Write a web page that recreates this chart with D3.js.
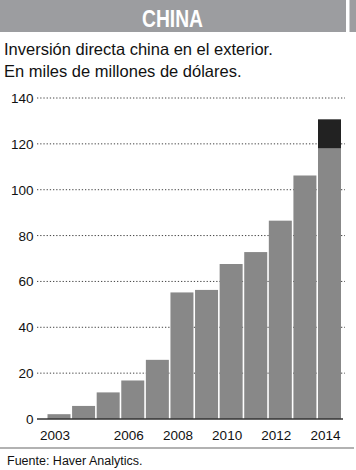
<!DOCTYPE html>
<html><head><meta charset="utf-8">
<script src="https://cdn.jsdelivr.net/npm/d3@7"></script>
<style>
html,body{margin:0;padding:0;background:#fff;}
svg{display:block;}
</style></head>
<body>
<script>
const years = [2003,2004,2005,2006,2007,2008,2009,2010,2011,2012,2013,2014];
const values = [2.1,5.7,11.6,16.8,25.8,55.2,56.3,67.6,72.8,86.5,106.2,118.0];
const estimateExtra = [0,0,0,0,0,0,0,0,0,0,0,12.7];
const yTicks = [0,20,40,60,80,100,120,140];
const xTickYears = [2003,2006,2008,2010,2012,2014];
const title = "CHINA";
const subtitle = ["Inversión directa china en el exterior.","En miles de millones de dólares."];
const source = "Fuente: Haver Analytics.";

const W=356,H=470;
const svg=d3.select("body").append("svg").attr("width",W).attr("height",H);
const font="'Liberation Sans', Arial, Helvetica, sans-serif";

// title bar
svg.append("rect").attr("x",0).attr("y",0).attr("width",346).attr("height",32).attr("fill","#9c9da0");
svg.append("rect").attr("x",349.5).attr("y",0).attr("width",6.5).attr("height",32).attr("fill","#9c9da0");
svg.append("text").attr("x",142).attr("y",26.5)
  .attr("textLength",61).attr("lengthAdjust","spacingAndGlyphs")
  .attr("font-family","'Liberation Sans Narrow', 'Arial Narrow', "+font).attr("font-weight","bold")
  .attr("font-size",23).attr("fill","#fff").text(title);

subtitle.forEach((s,i)=>{
  svg.append("text").attr("x",4).attr("y",55+i*22).attr("font-family",font)
    .attr("font-size",16.5).attr("fill","#111").text(s);
});

const y=d3.scaleLinear().domain([0,140]).range([419,98]);
const x=d3.scaleBand().domain(years).range([47.5,341]).paddingInner(0.065).paddingOuter(0);

// gridlines
svg.append("g").selectAll("line").data(yTicks.filter(d=>d>0)).join("line")
  .attr("x1",37).attr("x2",345).attr("y1",d=>y(d)).attr("y2",d=>y(d))
  .attr("stroke","#444").attr("stroke-width",1).attr("stroke-dasharray","1.3,1.9");

// y labels
svg.append("g").selectAll("text").data(yTicks).join("text")
  .attr("x",33.5).attr("y",d=>y(d)+5).attr("text-anchor","end")
  .attr("font-family",font).attr("font-size",13.5).attr("fill","#111").text(d=>d);

// bars
const g=svg.append("g");
g.selectAll("rect.base").data(years).join("rect").attr("class","base")
  .attr("x",d=>x(d)).attr("width",x.bandwidth())
  .attr("y",(d,i)=>y(values[i])).attr("height",(d,i)=>y(0)-y(values[i]))
  .attr("fill","#888888");
g.selectAll("rect.est").data(years.filter((d,i)=>estimateExtra[i]>0)).join("rect").attr("class","est")
  .attr("x",d=>x(d)).attr("width",x.bandwidth())
  .attr("y",d=>{const i=years.indexOf(d);return y(values[i]+estimateExtra[i]);})
  .attr("height",d=>{const i=years.indexOf(d);return y(values[i])-y(values[i]+estimateExtra[i]);})
  .attr("fill","#222222");

// baseline
svg.append("line").attr("x1",37).attr("x2",343).attr("y1",y(0)).attr("y2",y(0))
  .attr("stroke","#333").attr("stroke-width",1.6);

// x labels
svg.append("g").selectAll("text").data(xTickYears).join("text")
  .attr("x",d=>x(d)+x.bandwidth()/2-4).attr("y",440).attr("text-anchor","middle")
  .attr("font-family",font).attr("font-size",13.5).attr("fill","#111").text(d=>d);

// bottom rule
svg.append("line").attr("x1",0).attr("x2",354).attr("y1",448).attr("y2",448)
  .attr("stroke","#999").attr("stroke-width",1.5);
svg.append("text").attr("x",7).attr("y",465).attr("font-family",font)
  .attr("font-size",12.5).attr("fill","#111").text(source);
</script>
</body></html>
